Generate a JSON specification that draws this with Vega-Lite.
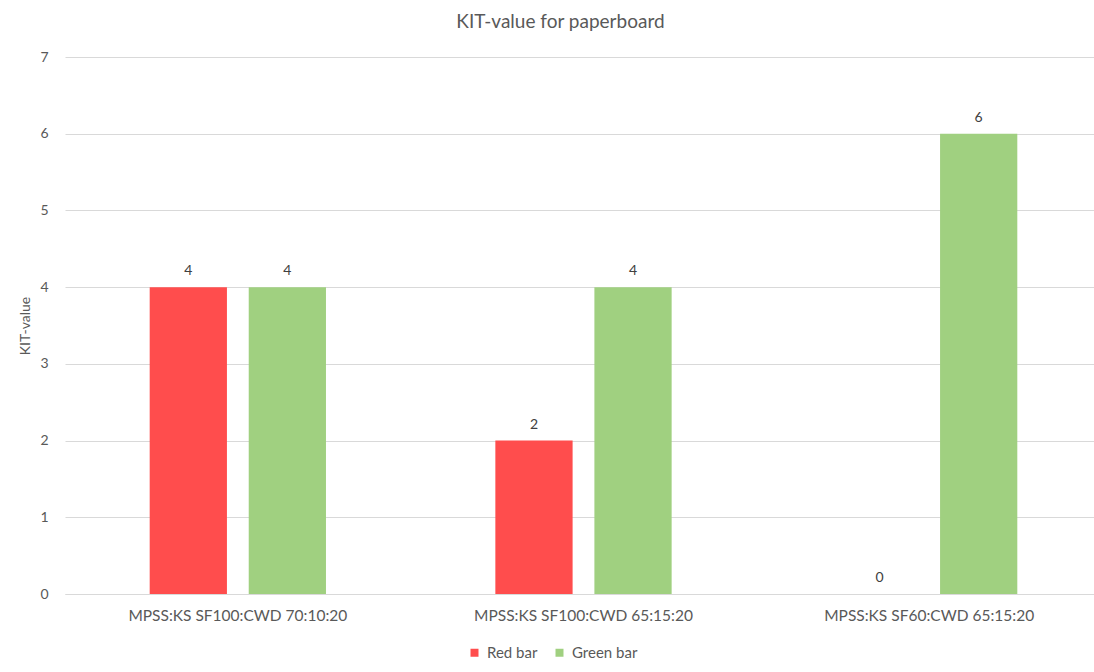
{
  "$schema": "https://vega.github.io/schema/vega-lite/v6.json",
  "width": 1037,
  "height": 537,
  "autosize": {"type": "none"},
  "padding": {"left": 65, "top": 57, "right": 0, "bottom": 78},
  "background": "white",
  "config": {
    "font": "Lato",
    "view": {"stroke": null},
    "axis": {"labelColor": "#595959", "titleColor": "#595959", "labelFont": "Lato", "titleFont": "Lato"}
  },
  "title": {"text": "KIT-value for paperboard", "fontSize": 19, "fontWeight": "normal", "color": "#595959", "offset": 18, "font": "Lato", "frame": "bounds"},
  "data": {
    "values": [
      {"Sample": "MPSS:KS SF100:CWD 70:10:20", "Series": "Red bar", "KIT": 4},
      {"Sample": "MPSS:KS SF100:CWD 70:10:20", "Series": "Green bar", "KIT": 4},
      {"Sample": "MPSS:KS SF100:CWD 65:15:20", "Series": "Red bar", "KIT": 2},
      {"Sample": "MPSS:KS SF100:CWD 65:15:20", "Series": "Green bar", "KIT": 4},
      {"Sample": "MPSS:KS SF60:CWD 65:15:20", "Series": "Red bar", "KIT": 0},
      {"Sample": "MPSS:KS SF60:CWD 65:15:20", "Series": "Green bar", "KIT": 6}
    ]
  },
  "encoding": {
    "x": {
      "field": "Sample", "type": "nominal", "sort": null,
      "scale": {"paddingInner": 0.49, "paddingOuter": 0.245},
      "axis": {"title": null, "labelAngle": 0, "ticks": false, "domainColor": "#d9d9d9", "labelFontSize": 15.5, "labelPadding": 14, "labelLimit": 0}
    },
    "xOffset": {"field": "Series", "sort": ["Red bar", "Green bar"], "scale": {"paddingInner": 0.22}},
    "y": {
      "field": "KIT", "type": "quantitative",
      "scale": {"domain": [0, 7]},
      "axis": {"title": "KIT-value", "tickCount": 7, "domain": false, "ticks": false, "gridColor": "#d9d9d9", "labelFontSize": 14, "labelPadding": 17, "titleFontSize": 14, "titleFontWeight": "normal", "titlePadding": 7}
    }
  },
  "layer": [
    {
      "mark": {"type": "bar"},
      "encoding": {
        "color": {
          "field": "Series", "type": "nominal",
          "scale": {"domain": ["Red bar", "Green bar"], "range": ["#ff4d4d", "#a0d080"]},
          "legend": {"orient": "none", "legendX": 402, "legendY": 588, "direction": "horizontal", "title": null, "symbolType": "square", "symbolSize": 64, "labelFontSize": 15, "labelColor": "#595959", "labelOffset": 5, "columnPadding": 14}
        }
      }
    },
    {
      "mark": {"type": "text", "dy": -16, "fontSize": 14, "color": "#404040"},
      "encoding": {"text": {"field": "KIT", "type": "quantitative"}}
    }
  ]
}
